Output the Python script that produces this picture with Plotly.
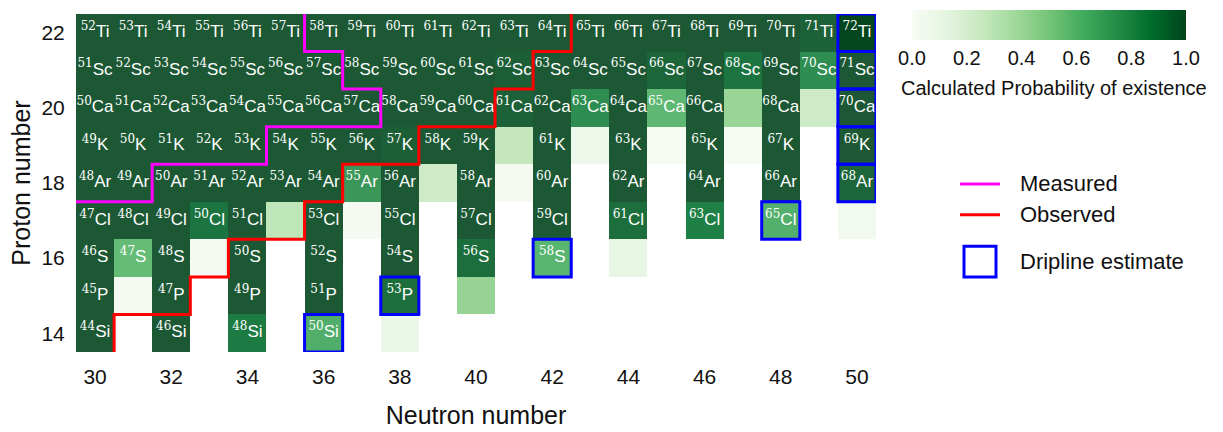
import plotly.graph_objects as go

# ---- data -------------------------------------------------------------
neutrons = list(range(30, 51))          # N = 30 .. 50
protons = list(range(14, 23))           # Z = 14 .. 22
elements = ["Si", "P", "S", "Cl", "Ar", "K", "Ca", "Sc", "Ti"]

# Calculated probability of existence per element, N = 30 .. 50 (None = not computed)
p_si = [1.0, None, 1.0, None, 0.88, None, 0.65, None, 0.10, None, None,
        None, None, None, None, None, None, None, None, None, None]
p_p = [1.0, 0.03, 1.0, None, 1.0, None, 1.0, None, 0.92, None, 0.44,
       None, None, None, None, None, None, None, None, None, None]
p_s = [1.0, 0.58, 1.0, 0.03, 1.0, None, 1.0, None, 1.0, None, 0.92,
       None, 0.62, None, 0.13, None, None, None, None, None, None]
p_cl = [1.0, 1.0, 1.0, 0.90, 1.0, 0.30, 1.0, 0.03, 1.0, None, 1.0,
        None, 1.0, None, 0.92, None, 0.86, None, 0.64, None, 0.04]
p_ar = [1.0, 1.0, 1.0, 1.0, 1.0, 1.0, 1.0, 0.75, 1.0, 0.25, 1.0,
        0.03, 1.0, None, 1.0, None, 1.0, None, 1.0, None, 0.95]
p_k = [1.0, 1.0, 1.0, 1.0, 1.0, 1.0, 1.0, 1.0, 0.98, 1.0, 1.0,
       0.28, 1.0, 0.08, 1.0, 0.02, 1.0, 0.02, 1.0, None, 1.0]
p_ca = [1.0, 1.0, 1.0, 1.0, 1.0, 1.0, 1.0, 1.0, 1.0, 1.0, 1.0,
        0.97, 1.0, 0.80, 1.0, 0.60, 1.0, 0.43, 1.0, 0.25, 1.0]
p_sc = [1.0, 1.0, 1.0, 1.0, 1.0, 1.0, 1.0, 1.0, 1.0, 1.0, 1.0,
        0.98, 1.0, 1.0, 1.0, 0.95, 1.0, 0.90, 1.0, 0.80, 1.0]
p_ti = [1.0, 1.0, 1.0, 1.0, 1.0, 1.0, 1.0, 1.0, 1.0, 1.0, 1.0,
        1.0, 1.0, 1.0, 1.0, 1.0, 1.0, 1.0, 1.0, 0.97, 1.0]
prob_rows = [p_si, p_p, p_s, p_cl, p_ar, p_k, p_ca, p_sc, p_ti]

# Heaviest measured / observed neutron number per element (Z = 14 .. 22)
measured_last_n = [None, None, None, None, 31, 34, 37, 36, 35]
observed_last_n = [30, 32, 33, 35, 36, 38, 40, 41, 42]
# Dripline estimate: neutron number per element (Z = 14 .. 22)
dripline_n = [36, 38, 42, 48, 50, 50, 50, 50, 50]
# Cells whose tile is painted twice (appear darker)
doubled_cells = [(50, 22)]

LABEL_MIN = 0.5
FONT = "Liberation Sans, Arial, Helvetica, sans-serif"
CELL_OPACITY = 0.89

# ---- geometry helpers (pixel -> paper) --------------------------------
PL, PR, PT, PB = 76, 876, 10, 352


def px_x(x):
    return (x - PL) / (PR - PL)


def px_y(y):
    return (PB - y) / (PB - PT)


def staircase(last_n, x_floor):
    xs, ys = [], []
    for z, n in sorted(zip(protons, last_n), reverse=True):
        if n is None:
            xs.append(x_floor)
            ys.append(z + 0.5)
            break
        xs += [n + 0.5, n + 0.5]
        ys += [z + 0.5, z - 0.5]
    return xs, ys


fig = go.Figure()

fig.add_trace(go.Heatmap(
    x=neutrons, y=protons, z=prob_rows,
    zmin=0, zmax=1, colorscale="Greens", opacity=CELL_OPACITY,
    hoverongaps=False,
    colorbar=dict(
        orientation="h",
        x=px_x(912), xanchor="left",
        y=px_y(6), yanchor="top",
        lenmode="pixels", len=274,
        thickness=30, xpad=0, ypad=0,
        outlinewidth=0,
        tickvals=[0, 0.2, 0.4, 0.6, 0.8, 1.0],
        ticktext=["0.0", "0.2", "0.4", "0.6", "0.8", "1.0"],
        ticks="",
        tickfont=dict(size=20, family=FONT, color="#111"),
    ),
))

# second pass over doubled tiles
dz = [[None] * len(neutrons) for _ in protons]
for n, z in doubled_cells:
    dz[protons.index(z)][neutrons.index(n)] = prob_rows[protons.index(z)][neutrons.index(n)]
fig.add_trace(go.Heatmap(
    x=neutrons, y=protons, z=dz, zmin=0, zmax=1, colorscale="Greens",
    opacity=CELL_OPACITY, showscale=False, hoverongaps=False,
))

# isotope labels
lx, ly, lt = [], [], []
for z, el, row in zip(protons, elements, prob_rows):
    for n, p in zip(neutrons, row):
        if p is not None and p >= LABEL_MIN:
            lx.append(n)
            ly.append(z)
            lt.append("<sup><span style='font-family:DejaVu Serif;font-size:12px'>"
                      f"{z + n}</span></sup>{el}")
fig.add_trace(go.Scatter(
    x=lx, y=ly, text=lt, mode="text",
    textfont=dict(color="white", size=17, family=FONT),
    hoverinfo="skip", showlegend=False,
))

# measured / observed boundaries
mx, my = staircase(measured_last_n, neutrons[0] - 0.5)
ox, oy = staircase(observed_last_n, neutrons[0] - 0.5)
fig.add_trace(go.Scatter(x=mx, y=my, mode="lines", line=dict(color="#ff00ff", width=3),
                         cliponaxis=False, hoverinfo="skip", showlegend=False))
fig.add_trace(go.Scatter(x=ox, y=oy, mode="lines", line=dict(color="#ff0000", width=3),
                         cliponaxis=False, hoverinfo="skip", showlegend=False))

# dripline estimate boxes
for z, n in zip(protons, dripline_n):
    fig.add_shape(type="rect", xref="x", yref="y",
                  x0=n - 0.5, x1=n + 0.5, y0=z - 0.5, y1=z + 0.5,
                  line=dict(color="#0000ff", width=3), fillcolor="rgba(0,0,0,0)")

# colour bar caption
fig.add_annotation(x=px_x(1054), y=px_y(85), xref="paper", yref="paper",
                   text="Calculated Probability of existence", showarrow=False,
                   xanchor="center", yanchor="middle",
                   font=dict(size=20, family=FONT, color="#111"))

# legend
leg = [("Measured", "#ff00ff", 182), ("Observed", "#ff0000", 213)]
for name, col, yy in leg:
    fig.add_shape(type="line", xref="paper", yref="paper",
                  x0=px_x(960), x1=px_x(1000), y0=px_y(yy), y1=px_y(yy),
                  line=dict(color=col, width=3))
    fig.add_annotation(x=px_x(1018), y=px_y(yy), xref="paper", yref="paper",
                       text=name, showarrow=False, xanchor="left", yanchor="middle",
                       font=dict(size=22, family=FONT, color="#111"))
fig.add_shape(type="rect", xref="paper", yref="paper",
              x0=px_x(964), x1=px_x(996), y0=px_y(276), y1=px_y(245),
              line=dict(color="#0000ff", width=3))
fig.add_annotation(x=px_x(1018), y=px_y(260), xref="paper", yref="paper",
                   text="Dripline estimate", showarrow=False, xanchor="left",
                   yanchor="middle", font=dict(size=22, family=FONT, color="#111"))

fig.update_layout(
    width=1223, height=432,
    margin=dict(l=PL, r=1223 - PR, t=PT, b=432 - PB),
    paper_bgcolor="white", plot_bgcolor="white",
    font=dict(family=FONT, color="#111"),
    showlegend=False,
    xaxis=dict(range=[29.5, 50.5], tickvals=list(range(30, 51, 2)),
               showgrid=False, zeroline=False, showline=False, automargin=False,
               ticks="outside", ticklen=6, tickcolor="rgba(0,0,0,0)",
               tickfont=dict(size=21),
               title=dict(text="Neutron number", font=dict(size=25), standoff=19)),
    yaxis=dict(range=[13.5, 22.5], tickvals=list(range(14, 23, 2)),
               showgrid=False, zeroline=False, showline=False, automargin=False,
               ticks="outside", ticklen=6, tickcolor="rgba(0,0,0,0)",
               tickfont=dict(size=21),
               title=dict(text="Proton number", font=dict(size=25), standoff=3)),
)

fig.write_html("out.html")
